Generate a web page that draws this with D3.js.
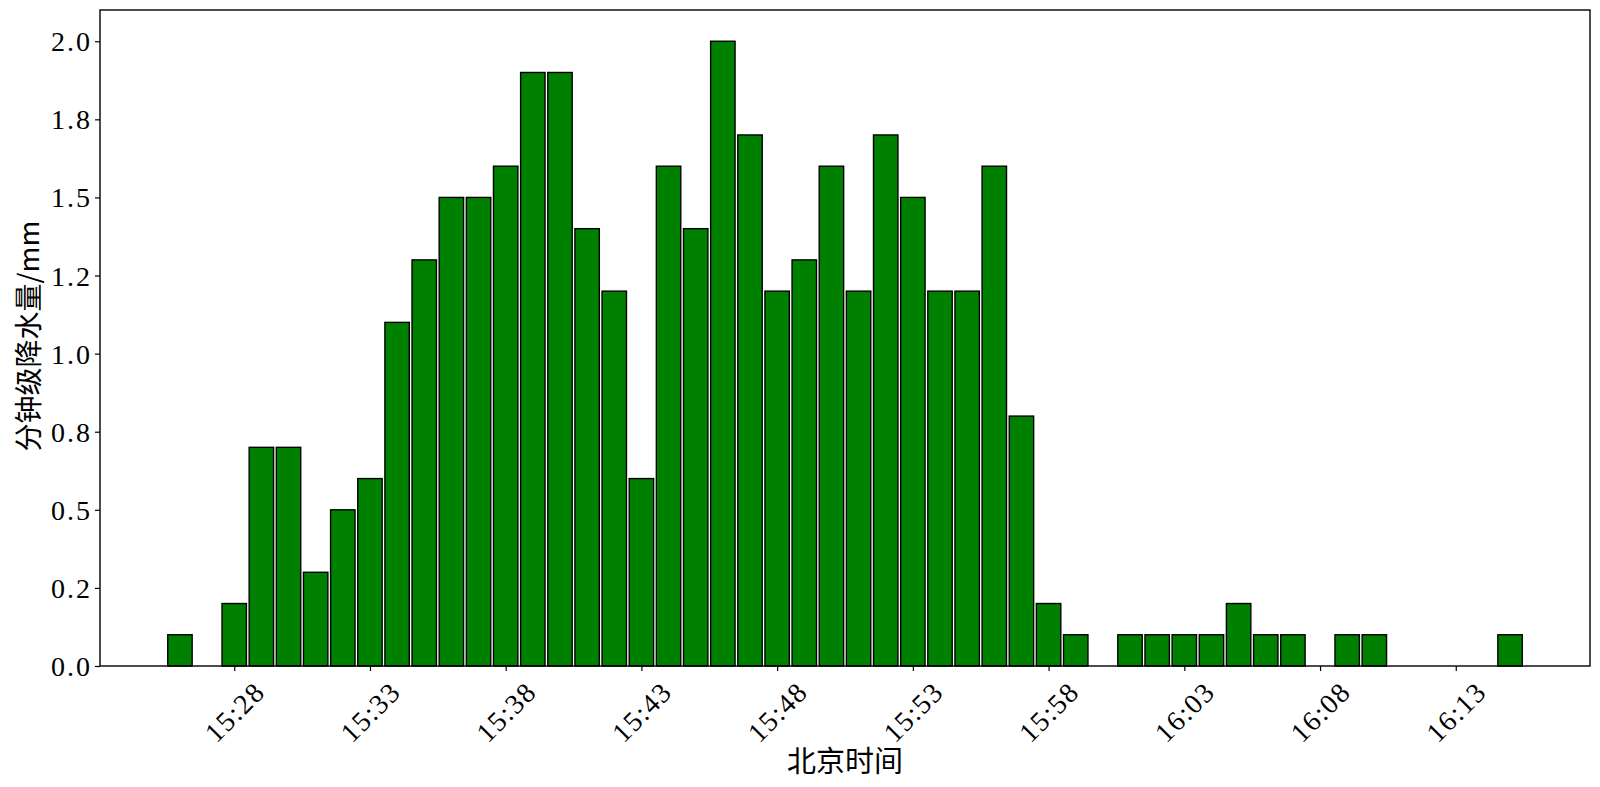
<!DOCTYPE html>
<html>
<head>
<meta charset="utf-8">
<script src="https://cdn.jsdelivr.net/npm/d3@7"></script>
<style>
  html, body { margin: 0; padding: 0; background: #fff; }
  svg { display: block; }
</style>
</head>
<body>
<svg id="chart" width="1600" height="787"></svg>
<script>
// ---- data ----
const times = [
  "15:26","15:27","15:28","15:29","15:30","15:31","15:32","15:33","15:34","15:35",
  "15:36","15:37","15:38","15:39","15:40","15:41","15:42","15:43","15:44","15:45",
  "15:46","15:47","15:48","15:49","15:50","15:51","15:52","15:53","15:54","15:55",
  "15:56","15:57","15:58","15:59","16:00","16:01","16:02","16:03","16:04","16:05",
  "16:06","16:07","16:08","16:09","16:10","16:11","16:12","16:13","16:14","16:15"
];
const rain = [
  0.1, 0, 0.2, 0.7, 0.7, 0.3, 0.5, 0.6, 1.1, 1.3,
  1.5, 1.5, 1.6, 1.9, 1.9, 1.4, 1.2, 0.6, 1.6, 1.4,
  2.0, 1.7, 1.2, 1.3, 1.6, 1.2, 1.7, 1.5, 1.2, 1.2,
  1.6, 0.8, 0.2, 0.1, 0, 0.1, 0.1, 0.1, 0.1, 0.2,
  0.1, 0.1, 0, 0.1, 0.1, 0, 0, 0, 0, 0.1
];
const xTickLabels = ["15:28","15:33","15:38","15:43","15:48","15:53","15:58","16:03","16:08","16:13"];
const yTickValues = [0, 0.25, 0.5, 0.75, 1.0, 1.25, 1.5, 1.75, 2.0];
const yTickLabels = ["0.0","0.2","0.5","0.8","1.0","1.2","1.5","1.8","2.0"];
const xLabel = "北京时间";
const yLabel = "分钟级降水量/mm";

// ---- layout ----
const margin = {left: 100, right: 10, top: 10, bottom: 121};
const W = 1600, H = 787;
const iw = W - margin.left - margin.right;
const ih = H - margin.top - margin.bottom;
const barWidthMin = 0.9;
const cjkFont = "'Noto Sans CJK SC', sans-serif";
const numFont = "'Liberation Serif', serif";

const parse = s => { const [h, m] = s.split(":").map(Number); return new Date(2024, 0, 1, h, m); };
const MIN = 60000;
const data = times.map((t, i) => ({t: parse(t), v: rain[i]}));

const t0 = d3.min(data, d => d.t).getTime() - barWidthMin / 2 * MIN;
const t1 = d3.max(data, d => d.t).getTime() + barWidthMin / 2 * MIN;
const pad = (t1 - t0) * 0.05;

const x = d3.scaleTime().domain([new Date(t0 - pad), new Date(t1 + pad)]).range([0, iw]);
const y = d3.scaleLinear().domain([0, 2.1]).range([ih, 0]);

const svg = d3.select("#chart");
const g = svg.append("g").attr("transform", `translate(${margin.left},${margin.top})`);

// bars
g.selectAll("rect.bar").data(data.filter(d => d.v > 0)).join("rect")
  .attr("class", "bar")
  .attr("x", d => x(new Date(d.t.getTime() - barWidthMin / 2 * MIN)))
  .attr("width", d => x(new Date(d.t.getTime() + barWidthMin / 2 * MIN)) - x(new Date(d.t.getTime() - barWidthMin / 2 * MIN)))
  .attr("y", d => y(d.v))
  .attr("height", d => y(0) - y(d.v))
  .attr("fill", "#008000")
  .attr("stroke", "#000")
  .attr("stroke-width", 1.4);

// x axis
const xTicks = xTickLabels.map(parse);
const xAxis = g.append("g").attr("transform", `translate(0,${ih})`)
  .call(d3.axisBottom(x).tickValues(xTicks).tickSize(5).tickFormat(""));
xAxis.select(".domain").remove();
xAxis.selectAll(".tick line").attr("stroke", "#000").attr("stroke-width", 1.2);
xAxis.selectAll(".tick").append("text")
  .text((d, i) => xTickLabels[i])
  .attr("fill", "#000")
  .attr("font-family", numFont)
  .attr("font-size", 28)
  .attr("letter-spacing", "1.5px")
  .attr("text-anchor", "middle")
  .attr("dominant-baseline", "central")
  .attr("transform", "translate(0,46) rotate(-45)");

// y axis
const yAxis = g.append("g")
  .call(d3.axisLeft(y).tickValues(yTickValues).tickSize(5).tickFormat(""));
yAxis.select(".domain").remove();
yAxis.selectAll(".tick line").attr("stroke", "#000").attr("stroke-width", 1.2);
yAxis.selectAll(".tick").append("text")
  .text((d, i) => yTickLabels[i])
  .attr("fill", "#000")
  .attr("font-family", numFont)
  .attr("font-size", 28)
  .attr("letter-spacing", "2px")
  .attr("text-anchor", "end")
  .attr("dominant-baseline", "central")
  .attr("x", -8);

// frame
g.append("rect")
  .attr("x", 0).attr("y", 0).attr("width", iw).attr("height", ih)
  .attr("fill", "none").attr("stroke", "#000").attr("stroke-width", 1.4);

// axis labels
svg.append("text")
  .attr("x", margin.left + iw / 2)
  .attr("y", 772)
  .attr("text-anchor", "middle")
  .attr("font-family", cjkFont)
  .attr("font-size", 29)
  .attr("fill", "#000")
  .text(xLabel);

svg.append("text")
  .attr("transform", `translate(27,${margin.top + ih / 2 - 2}) rotate(-90)`)
  .attr("text-anchor", "middle")
  .attr("dominant-baseline", "central")
  .attr("font-family", cjkFont)
  .attr("font-size", 28)
  .attr("fill", "#000")
  .text(yLabel);
</script>
</body>
</html>
